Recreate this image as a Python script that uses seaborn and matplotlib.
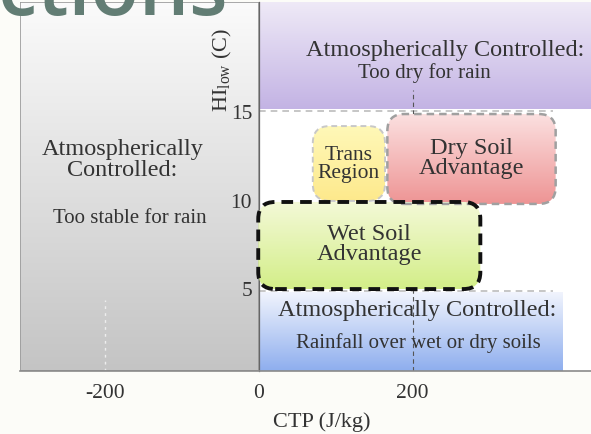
import numpy as np
import matplotlib
matplotlib.use("Agg")
import matplotlib.pyplot as plt
from matplotlib.colors import LinearSegmentedColormap
from matplotlib.patches import FancyBboxPatch, Rectangle
import seaborn as sns

# regime boxes in CTP (J/kg) vs HI_low (C) space
region_names = ["too_stable", "too_dry", "rainfall", "trans", "dry_soil", "wet_soil"]
ctp_lo = [-311, 0, 0, 70, 167, -1]
ctp_hi = [0, 432, 395, 164, 386, 288]
hi_lo = [0.31, 15.11, 0.31, 9.92, 9.75, 4.94]
hi_hi = [21.16, 21.16, 4.77, 14.15, 14.83, 9.86]

# text for the atmospherically controlled regions (header + sub line)
atm_head = ["Atmospherically\nControlled:", "Atmospherically Controlled:", "Atmospherically Controlled:"]
atm_head_xy = [(-178, 12.29), (242, 18.5), (206, 3.76)]
atm_sub = ["Too stable for rain", "Too dry for rain", "Rainfall over wet or dry soils"]
atm_sub_xy = [(-168, 9.01), (215, 17.2), (208, 1.95)]

# text for the soil moisture boxes
box_text = ["Trans\nRegion", "Dry Soil\nAdvantage", "Wet Soil\nAdvantage"]

xticks = [-200, 0, 200]
yticks = [5, 10, 15]

sns.set_theme(style="white")
plt.rcParams['font.family'] = ['Liberation Serif', 'DejaVu Serif']
plt.rcParams['axes.unicode_minus'] = False
plt.rcParams['mathtext.fontset'] = 'custom'
plt.rcParams['mathtext.rm'] = 'Liberation Serif'

fig = plt.figure(figsize=(5.91, 4.35), dpi=100)
fig.patch.set_facecolor('#fcfcf8')
ax = fig.add_axes([20 / 591, 63 / 435, 571 / 591, 369 / 435])
ax.set_facecolor('white')
ax.set_xlim(-311, 432)
ax.set_ylim(0.31, 21.16)

# y-units per x-unit on screen, so rounded corners look circular
px_x = 571 / (432 + 311)
px_y = 369 / (21.16 - 0.31)
aspect = px_x / px_y
grad = np.linspace(0, 1, 256).reshape(-1, 1)


def gradient(i, top, bottom, z, clip=None):
    cmap = LinearSegmentedColormap.from_list(region_names[i], [bottom, top])
    im = ax.imshow(grad, extent=[ctp_lo[i], ctp_hi[i], hi_lo[i], hi_hi[i]],
                   origin='lower', aspect='auto', cmap=cmap, zorder=z, interpolation='bicubic')
    if clip is not None:
        im.set_clip_path(clip)
    return im


# big rectangular regimes
gradient(0, '#fbfbfb', '#c4c4c4', 1)
gradient(1, '#efeaf7', '#c3b3e4', 1)
gradient(2, '#f1f4fd', '#8eaeee', 1)
ax.add_patch(Rectangle((ctp_lo[0], hi_lo[0]), ctp_hi[0] - ctp_lo[0], hi_hi[0] - hi_lo[0],
                       fill=False, ec='#9a9a9a', lw=1.2, zorder=2))

# dashed edges of the white middle panel
ax.hlines([15.0, 4.85], 0, 383, colors='#bcbcbc', lw=1.2, ls=(0, (4, 3)), zorder=1.5)

# faint grid remnants
ax.vlines(200, 0.31, 16.2, colors='#555555', lw=0.8, ls=(0, (4, 3)), zorder=1.6)
ax.vlines(-200, 0.31, 4.3, colors='#eeeeee', lw=1.0, ls=(0, (2, 3)), zorder=1.6)

# rounded soil-moisture boxes
styles = [('#fff8b8', '#fde98c', '#c8c8c8', 1.4, (0, (3, 2))),
          ('#fbe0e0', '#ee9494', '#a0a0a0', 1.8, (0, (3, 2))),
          ('#f4f9d8', '#d3ee88', '#111111', 2.8, (0, (3, 1.8)))]
for k, i in enumerate([3, 4, 5]):
    top, bottom, ec, lw, ls = styles[k]
    clip = FancyBboxPatch((ctp_lo[i], hi_lo[i]), ctp_hi[i] - ctp_lo[i], hi_hi[i] - hi_lo[i],
                          boxstyle="round,pad=0,rounding_size=22", mutation_aspect=aspect,
                          fc='none', ec='none', zorder=2)
    ax.add_patch(clip)
    gradient(i, top, bottom, 3, clip=clip)
    ax.add_patch(FancyBboxPatch((ctp_lo[i], hi_lo[i]), ctp_hi[i] - ctp_lo[i], hi_hi[i] - hi_lo[i],
                                boxstyle="round,pad=0,rounding_size=22", mutation_aspect=aspect,
                                fc='none', ec=ec, lw=lw, ls=ls, zorder=4))
    ax.text((ctp_lo[i] + ctp_hi[i]) / 2, (hi_lo[i] + hi_hi[i]) / 2 + (0.1 if k else 0.0), box_text[k],
            ha='center', va='center', fontsize=15.5 if k == 0 else 17.5, color='#333333',
            linespacing=0.95, zorder=5)

for k in range(3):
    ax.text(*atm_head_xy[k], atm_head[k], ha='center', va='center', fontsize=17.5,
            color='#333333', linespacing=0.95, zorder=5)
    ax.text(*atm_sub_xy[k], atm_sub[k], ha='center', va='center', fontsize=15,
            color='#333333', zorder=5)

# axes: y axis sits at CTP = 0
for s in ['top', 'right']:
    ax.spines[s].set_visible(False)
ax.spines['left'].set_position(('data', 0))
ax.spines['left'].set_color('#666666')
ax.spines['left'].set_linewidth(0.9)
ax.spines['left'].set_zorder(2.5)
ax.spines['bottom'].set_color('#8a8a8a')
ax.spines['bottom'].set_linewidth(1.2)
ax.set_xticks(xticks)
ax.set_yticks(yticks)
ax.tick_params(axis='both', labelsize=15.5, colors='#333333', length=0)
ax.tick_params(axis='y', pad=5)
ax.tick_params(axis='x', pad=9)
ax.xaxis.set_zorder(6)
ax.yaxis.set_zorder(6)

ax.set_xlabel('CTP (J/kg)', fontsize=16, color='#333333')
ax.xaxis.set_label_coords((322 - 20) / 571, -(422 - 372) / 369)
ax.xaxis.label.set_va('center')
ax.set_ylabel('HI$_{\\mathrm{low}}$ (C)', fontsize=16, color='#333333')
ax.yaxis.label.set_va('center')
ax.yaxis.set_label_coords((222 - 20) / 571, (372 - 70) / 369)

# slide title remnant across the top
fig.text(-0.004, 1 - 15 / 435, 'ctions', fontsize=57, color='#627d74', fontweight='semibold',
         family=['Open Sans', 'DejaVu Sans'], ha='left', va='baseline')

fig.savefig('out.png', dpi=100, facecolor=fig.get_facecolor())
